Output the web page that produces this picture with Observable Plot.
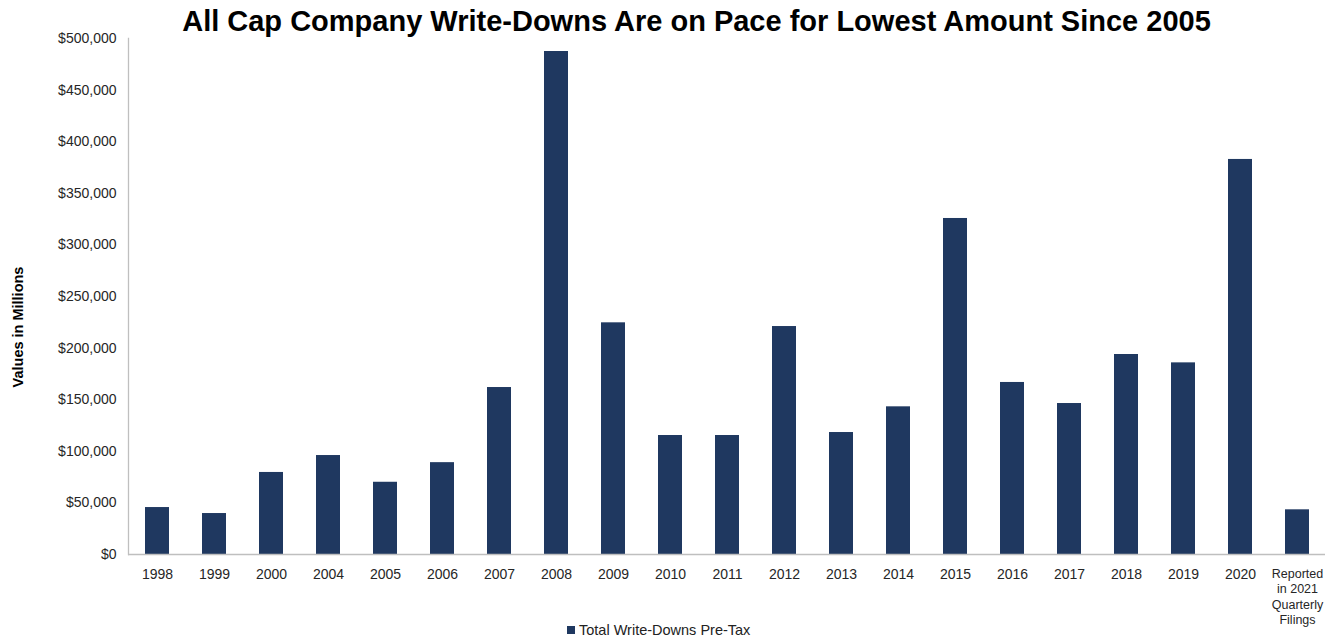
<!DOCTYPE html>
<html>
<head>
<meta charset="utf-8">
<script src="https://cdn.jsdelivr.net/npm/d3@7"></script>
<script src="https://cdn.jsdelivr.net/npm/@observablehq/plot@0.6"></script>
<style>
  html, body { margin: 0; padding: 0; background: #fff; }
  #wrap { position: relative; width: 1335px; height: 639px; font-family: "Liberation Sans", Arial, sans-serif; overflow: hidden; }
  #title { position: absolute; left: 0; width: 1335px; top: 5px; text-align: center; font-size: 29px; font-weight: bold; color: #000; line-height: 33px; padding-left: 58px; box-sizing: border-box; }
  #ylab { position: absolute; left: 18px; top: 327px; transform: translate(-50%, -50%) rotate(-90deg); font-size: 14.5px; font-weight: bold; color: #000; white-space: nowrap; }
  #legend { position: absolute; left: 567px; top: 622px; font-size: 14.5px; color: #222; display: flex; align-items: center; white-space: nowrap; }
  #legend .sw { width: 8px; height: 8px; background: #1f3860; margin-right: 4px; }
  #chart { position: absolute; left: 0; top: 0; }
</style>
</head>
<body>
<div id="wrap">
  <div id="chart"></div>
  <div id="title">All Cap Company Write-Downs Are on Pace for Lowest Amount Since 2005</div>
  <div id="ylab">Values in Millions</div>
  <div id="legend"><span class="sw"></span><span>Total Write-Downs Pre-Tax</span></div>
</div>
<script>
const categories = ["1998","1999","2000","2004","2005","2006","2007","2008","2009","2010","2011","2012","2013","2014","2015","2016","2017","2018","2019","2020","2021Q"];
const categoryLabels = ["1998","1999","2000","2004","2005","2006","2007","2008","2009","2010","2011","2012","2013","2014","2015","2016","2017","2018","2019","2020","Reported\nin 2021\nQuarterly\nFilings"];
const writeDowns = [45500, 39700, 79500, 95900, 70000, 89000, 161800, 487400, 224500, 115300, 115300, 220900, 118200, 143100, 325600, 166700, 146300, 193800, 185700, 382800, 43300];
const yTicks = [0, 50000, 100000, 150000, 200000, 250000, 300000, 350000, 400000, 450000, 500000];

const data = categories.map((c, i) => ({cat: c, value: writeDowns[i]}));
const labelOf = new Map(categories.map((c, i) => [c, categoryLabels[i]]));

const chart = Plot.plot({
  width: 1335,
  height: 639,
  marginTop: 38,
  marginBottom: 85,
  marginLeft: 128,
  marginRight: 10,
  style: {fontFamily: "'Liberation Sans', Arial, sans-serif", fontSize: "14px", color: "#262626", background: "transparent"},
  x: {domain: categories, paddingInner: 0.58, paddingOuter: 0.29, axis: null},
  y: {domain: [0, 500000], axis: null},
  marks: [
    Plot.barY(data, {x: "cat", y: "value", fill: "#1f3860"}),
    Plot.frame({anchor: "left", stroke: "#bfbfbf", strokeWidth: 1.3}),
    Plot.ruleY([0], {stroke: "#bfbfbf", strokeWidth: 1.3}),
    Plot.axisY({ticks: yTicks, tickSize: 0, tickPadding: 12, fontSize: 14, tickFormat: d => "$" + d3.format(",")(d), label: null}),
    Plot.text(categories, {
      x: d => d,
      text: d => labelOf.get(d),
      frameAnchor: "bottom",
      lineAnchor: "top",
      dy: 12,
      lineHeight: 1.25,
      fontSize: d => d === "2021Q" ? 12.5 : 14,
      fill: "#262626"
    })
  ]
});
document.getElementById("chart").appendChild(chart);
</script>
</body>
</html>
